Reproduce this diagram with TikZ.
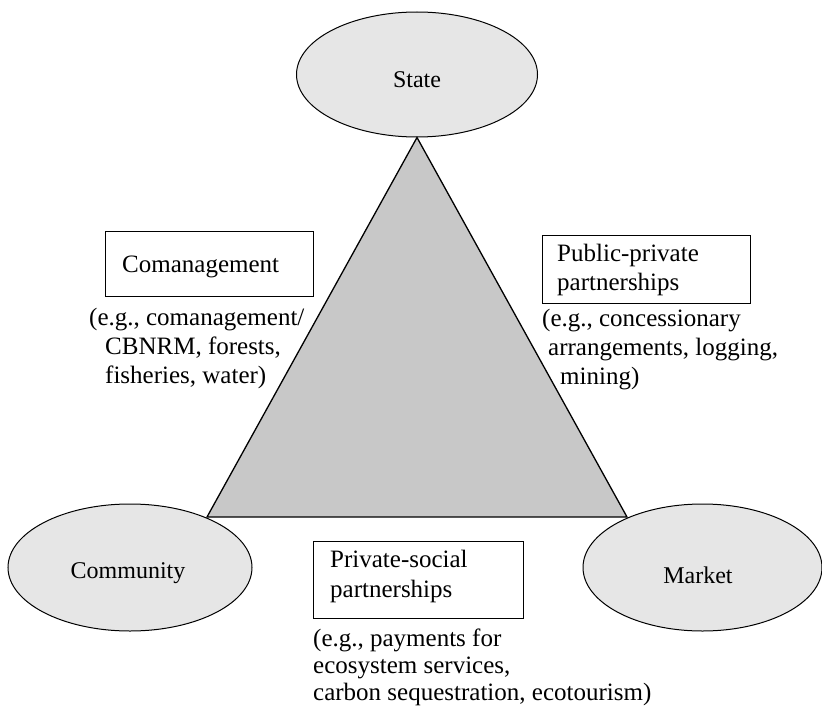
\documentclass[tikz,border=0pt]{standalone}
\usepackage{fontspec}
\setmainfont{Liberation Serif}
\usetikzlibrary{shapes.geometric}
\definecolor{ovalgray}{RGB}{230,230,230}
\definecolor{trigray}{RGB}{200,200,200}
\begin{document}
\begin{tikzpicture}[x=1pt,y=-1pt,
  oval/.style={ellipse,draw=black,line width=1pt,fill=ovalgray,inner sep=0pt},
  framebox/.style={draw=black,line width=1.1pt,anchor=north west,inner sep=0pt},
  txt/.style={anchor=base west,inner sep=0pt,font=\fontsize{25}{30}\selectfont},
  ovaltxt/.style={anchor=base,inner sep=0pt,font=\fontsize{24}{28}\selectfont}]
\useasboundingbox (0,0) rectangle (822,709);

% ellipses
\node[oval,minimum width=241pt,minimum height=125pt] (state) at (417,74.5) {};
\node[oval,minimum width=244pt,minimum height=127pt] (community) at (130,567.5) {};
\node[oval,minimum width=239pt,minimum height=127pt] (market) at (702.5,567.5) {};

% triangle
\coordinate (apex) at (state.south);
\coordinate (bl) at (207,517);
\coordinate (br) at (627,517);
\filldraw[fill=trigray,draw=black,line width=1.3pt,line join=miter] (apex) -- (bl) -- (br) -- cycle;

% ellipse labels
\node[ovaltxt] (statelbl) at (417,88) {State};
\node[ovaltxt] (communitylbl) at (128,578) {Community};
\node[ovaltxt] (marketlbl) at (698,583) {Market};

% Comanagement
\node[framebox,minimum width=208pt,minimum height=65pt] (cmbox) at (105,231) {};
\node[txt] (cmtitle) at (122,272) {Comanagement};
\node[txt] (cm1) at (89,325) {(e.g., comanagement/};
\node[txt] (cm2) at (105,354) {CBNRM, forests,};
\node[txt] (cm3) at (105,383) {fisheries, water)};

% Public-private
\node[framebox,minimum width=208pt,minimum height=68pt] (ppbox) at (542,235) {};
\node[txt] (pptitle1) at (557,261) {Public-private};
\node[txt] (pptitle2) at (557,290) {partnerships};
\node[txt] (pp1) at (542,326) {(e.g., concessionary};
\node[txt] (pp2) at (548,355) {arrangements, logging,};
\node[txt] (pp3) at (560,384) {mining)};

% Private-social
\node[framebox,minimum width=210pt,minimum height=77pt] (psbox) at (313,541) {};
\node[txt] (pstitle1) at (330,567) {Private-social};
\node[txt] (pstitle2) at (330,597) {partnerships};
\node[txt] (ps1) at (313,646) {(e.g., payments for};
\node[txt] (ps2) at (313,673) {ecosystem services,};
\node[txt] (ps3) at (313,700) {carbon sequestration, ecotourism)};
\end{tikzpicture}
\end{document}
